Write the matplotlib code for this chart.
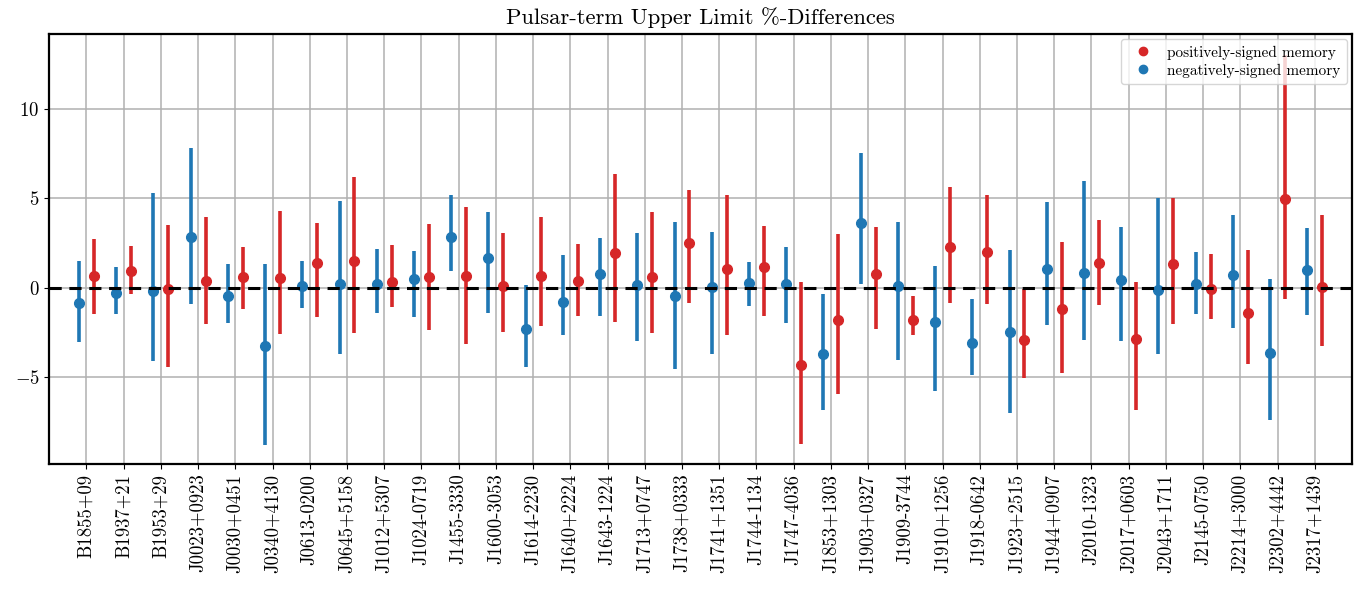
import matplotlib
matplotlib.use("Agg")
import matplotlib.pyplot as plt
from matplotlib.lines import Line2D
import numpy as np

plt.rcParams['font.family'] = 'serif'
plt.rcParams['font.serif'] = ['cmr10']
plt.rcParams['mathtext.fontset'] = 'cm'
plt.rcParams['axes.formatter.use_mathtext'] = True
plt.rcParams['axes.unicode_minus'] = True

pulsars = ["B1855+09", "B1937+21", "B1953+29", "J0023+0923", "J0030+0451",
           "J0340+4130", "J0613-0200", "J0645+5158", "J1012+5307", "J1024-0719",
           "J1455-3330", "J1600-3053", "J1614-2230", "J1640+2224", "J1643-1224",
           "J1713+0747", "J1738+0333", "J1741+1351", "J1744-1134", "J1747-4036",
           "J1853+1303", "J1903+0327", "J1909-3744", "J1910+1256", "J1918-0642",
           "J1923+2515", "J1944+0907", "J2010-1323", "J2017+0603", "J2043+1711",
           "J2145-0750", "J2214+3000", "J2302+4442", "J2317+1439"]

# negatively-signed memory (blue): central value, lower end, upper end
neg_mid = [-0.84, -0.28, -0.17, 2.85, -0.47, -3.25, 0.09, 0.21, 0.24, 0.47,
           2.85, 1.66, -2.28, -0.78, 0.75, 0.15, -0.43, 0.02, 0.28, 0.19,
           -3.71, 3.64, 0.09, -1.92, -3.06, -2.46, 1.04, 0.84, 0.43, -0.13,
           0.21, 0.71, -3.64, 0.99]
neg_lo = [-3.02, -1.49, -4.09, -0.91, -1.96, -8.77, -1.10, -3.71, -1.40, -1.62,
          0.93, -1.38, -4.42, -2.61, -1.57, -2.99, -4.55, -3.71, -1.03, -1.94,
          -6.81, 0.24, -4.01, -5.76, -4.89, -6.98, -2.09, -2.93, -2.97, -3.71,
          -1.47, -2.24, -7.41, -1.53]
neg_hi = [1.49, 1.18, 5.32, 7.80, 1.36, 1.36, 1.49, 4.87, 2.18, 2.07,
          5.17, 4.25, 0.15, 1.81, 2.80, 3.04, 3.69, 3.12, 1.42, 2.31,
          -0.34, 7.52, 3.69, 1.21, -0.60, 2.09, 4.78, 5.97, 3.40, 5.00,
          1.98, 4.07, 0.47, 3.36]

# positively-signed memory (red): central value, lower end, upper end
pos_mid = [0.65, 0.95, -0.09, 0.39, 0.62, 0.54, 1.40, 1.51, 0.35, 0.62,
           0.67, 0.09, 0.65, 0.37, 1.96, 0.58, 2.50, 1.04, 1.16, -4.31,
           -1.81, 0.75, -1.81, 2.29, 2.03, -2.93, -1.16, 1.40, -2.87, 1.36,
           -0.04, -1.40, 4.96, 0.06]
pos_lo = [-1.44, -0.34, -4.42, -2.00, -1.18, -2.59, -1.62, -2.52, -1.06, -2.37,
          -3.12, -2.46, -2.15, -1.57, -1.90, -2.52, -0.82, -2.65, -1.57, -8.71,
          -5.95, -2.28, -2.61, -0.84, -0.88, -5.02, -4.79, -0.97, -6.85, -2.03,
          -1.74, -4.27, -0.62, -3.23]
pos_hi = [2.71, 2.33, 3.53, 3.97, 2.26, 4.29, 3.64, 6.18, 2.39, 3.56,
          4.53, 3.04, 3.97, 2.48, 6.36, 4.22, 5.50, 5.21, 3.47, 0.30,
          3.00, 3.40, -0.47, 5.65, 5.21, -0.04, 2.54, 3.79, 0.34, 5.04,
          1.92, 2.11, 13.0, 4.07]

red = '#d62728'
blue = '#1f77b4'

fig = plt.figure(figsize=(13.67, 5.91), dpi=100)
ax = fig.add_axes([0.036, 0.215, 0.953, 0.7275])

x = np.arange(len(pulsars))
nm, nl, nh = map(np.array, (neg_mid, neg_lo, neg_hi))
pm, pl, ph = map(np.array, (pos_mid, pos_lo, pos_hi))

ax.errorbar(x - 0.2, nm, yerr=[nm - nl, nh - nm], fmt='o', color=blue,
            ms=7, elinewidth=2.6, capsize=0, zorder=3)
ax.errorbar(x + 0.2, pm, yerr=[pm - pl, ph - pm], fmt='o', color=red,
            ms=7, elinewidth=2.6, capsize=0, zorder=3)

ax.axhline(0, color='black', ls='--', lw=2.2, dashes=(4, 2.5), zorder=4)

ax.set_xticks(x)
ax.set_xticklabels(pulsars, rotation=90, fontsize=13.5)
ax.set_yticks([-5, 0, 5, 10])
ax.tick_params(axis='y', labelsize=13.5)
ax.set_xlim(-1, len(pulsars))
ax.set_ylim(-9.85, 14.2)
ax.grid(True, color='#b0b0b0', lw=1.1)
ax.set_axisbelow(True)
for s in ax.spines.values():
    s.set_linewidth(1.6)

ax.set_title('Pulsar-term Upper Limit %-Differences', fontsize=16.3, pad=7)

handles = [Line2D([], [], ls='none', marker='o', color=red, ms=6),
           Line2D([], [], ls='none', marker='o', color=blue, ms=6)]
ax.legend(handles, ['positively-signed memory', 'negatively-signed memory'],
          loc='upper right', fontsize=11, handletextpad=0.6,
          borderaxespad=0.35, labelspacing=0.25)

fig.savefig('out.png', dpi=100)
